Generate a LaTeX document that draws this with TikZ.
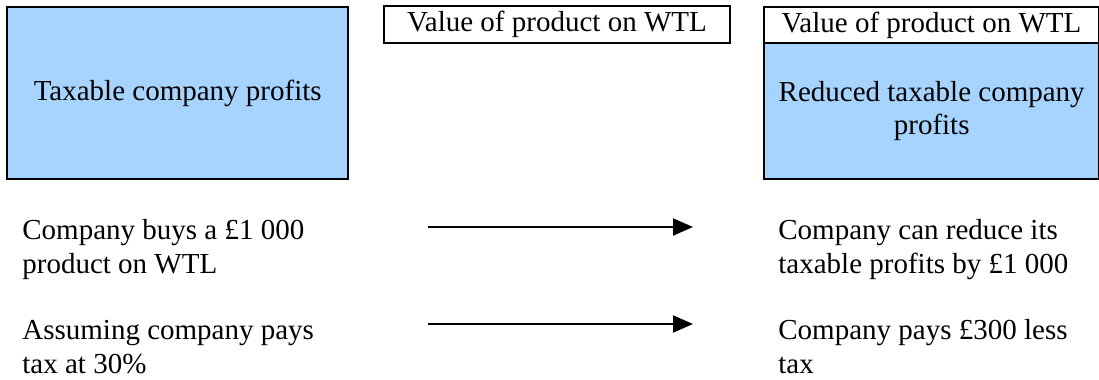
\documentclass[tikz,border=0pt]{standalone}
\usepackage{fontspec}
\setmainfont{Liberation Serif}
\usetikzlibrary{arrows.meta}
\definecolor{paleblue}{RGB}{166,212,255}
\begin{document}
\begin{tikzpicture}[x=0.5pt,y=-0.5pt,
  font=\fontsize{14.5}{16.75}\selectfont,
  bluebox/.style={draw=black, line width=1.2pt, fill=paleblue, inner sep=0pt, anchor=north west, align=center},
  labelbox/.style={draw=black, line width=1pt, fill=white, inner sep=0pt, anchor=north west, align=center},
  plaintext/.style={anchor=base west, align=left, inner sep=0pt},
  flow/.style={line width=1pt, -{Triangle[length=10pt,width=8.5pt]}}]
\useasboundingbox (0,0) rectangle (1099,380);
% left box
\node[bluebox, minimum width=170.5pt, minimum height=86pt] (tcp) at (6,6) {Taxable company profits};
% middle label box
\node[labelbox, minimum width=173pt, minimum height=18.5pt] (val1) at (383,5) {Value of product on WTL};
% right box
\node[labelbox, minimum width=167.5pt, minimum height=18pt] (val2) at (763,6) {Value of product on WTL};
\node[bluebox, minimum width=167.5pt, minimum height=68pt] (rtcp) at (763,42) {Reduced taxable company\\profits};
% texts (anchored at the baseline of their last line)
\node[plaintext] (buy) at (22,273) {Company buys a £1 000\\product on WTL};
\node[plaintext] (assume) at (22,373) {Assuming company pays\\tax at 30\%};
\node[plaintext] (reduce) at (778,273) {Company can reduce its\\taxable profits by £1 000};
\node[plaintext] (pays) at (778,373) {Company pays £300 less\\tax};
% arrows
\coordinate (a1s) at (428,227);
\coordinate (a1e) at (693,227);
\coordinate (a2s) at (428,324);
\coordinate (a2e) at (693,324);
\draw[flow] (a1s) -- (a1e);
\draw[flow] (a2s) -- (a2e);
\end{tikzpicture}
\end{document}
